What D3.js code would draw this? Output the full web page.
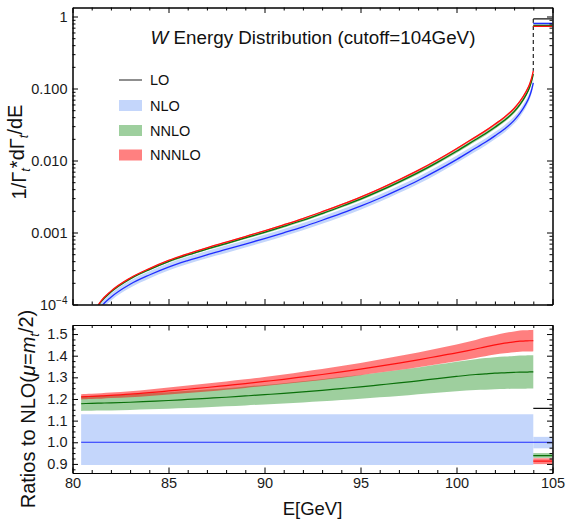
<!DOCTYPE html>
<html><head><meta charset="utf-8">
<script src="https://cdn.jsdelivr.net/npm/d3@7/dist/d3.min.js"></script>
<style>body{margin:0;background:#fff} text{font-family:"Liberation Sans",Arial,sans-serif}</style>
</head><body><svg id="c" width="566" height="521" xmlns="http://www.w3.org/2000/svg"></svg>
<script>
// ---------------- data ----------------
const energies   = [80.45, 80.7, 81, 81.5, 82, 83, 84, 85, 86, 87, 88, 89, 90, 91, 92, 93, 94, 95, 96, 97, 98, 99, 100, 101, 101.5, 102, 102.5, 103, 103.3, 103.6, 103.8, 103.9, 104];
const nloValues  = [1.66e-5, 3.55e-5, 5.62e-5, 9.33e-5, 1.26e-4, 1.91e-4, 2.57e-4, 3.31e-4, 4.07e-4, 4.90e-4, 5.82e-4, 6.92e-4, 8.24e-4, 9.91e-4, 1.20e-3, 1.48e-3, 1.84e-3, 2.32e-3, 2.99e-3, 3.94e-3, 5.28e-3, 7.28e-3, 1.03e-2, 1.49e-2, 1.79e-2, 2.20e-2, 2.74e-2, 3.61e-2, 4.50e-2, 6.01e-2, 7.74e-2, 9.31e-2, 1.20e-1];
const nnloRatio  = [1.178, 1.179, 1.180, 1.181, 1.182, 1.185, 1.189, 1.193, 1.198, 1.203, 1.208, 1.214, 1.220, 1.226, 1.233, 1.240, 1.248, 1.256, 1.265, 1.274, 1.284, 1.294, 1.304, 1.313, 1.316, 1.319, 1.321, 1.323, 1.324, 1.324, 1.325, 1.325, 1.325];
const nnloErr    = [.033, .033, .034, .034, .035, .036, .037, .038, .040, .041, .042, .044, .045, .047, .049, .051, .053, .055, .057, .060, .062, .065, .068, .071, .073, .074, .075, .076, .077, .077, .077, .077, .077];
const nnnloRatio = [1.210, 1.211, 1.212, 1.214, 1.217, 1.222, 1.229, 1.237, 1.245, 1.253, 1.262, 1.271, 1.281, 1.291, 1.302, 1.313, 1.325, 1.338, 1.352, 1.366, 1.381, 1.397, 1.413, 1.431, 1.441, 1.450, 1.458, 1.464, 1.467, 1.468, 1.469, 1.469, 1.470];
const nnnloErr   = [.012, .012, .012, .013, .013, .014, .015, .016, .017, .018, .019, .020, .021, .022, .024, .025, .027, .028, .030, .032, .034, .036, .039, .042, .044, .045, .047, .048, .049, .049, .050, .050, .050];
const nloBandRatio = [0.895, 1.13];

// endpoint bin (cutoff 104 GeV .. 105 GeV)
const binEdges      = [104, 105];
const nloBinValue   = 0.80;
const loBinRatio    = 1.157;
const nloBinBand    = [0.972, 1.025];
const nnloBinRatio  = 0.938;
const nnloBinBand   = [0.928, 0.950];
const nnnloBinRatio = 0.913;
const nnnloBinBand  = [0.899, 0.926];

// axes
const xMajorTicks = [80, 85, 90, 95, 100, 105];
const topMajorTicks = [1e-4, 1e-3, 1e-2, 1e-1, 1];
const topTickLabels = ["10^-4", "0.001", "0.010", "0.100", "1"];
const bottomMajorTicks = [0.9, 1.0, 1.1, 1.2, 1.3, 1.4, 1.5];
const bottomTickLabels = ["0.9", "1.0", "1.1", "1.2", "1.3", "1.4", "1.5"];
const legendLabels = ["LO", "NLO", "NNLO", "NNNLO"];

// ---------------- styles ----------------
const C = {
  nloBand: "#c4d6fb", nloLine: "#1f2cff",
  nnloBand: "rgba(0,128,0,0.38)", nnloLine: "#0a700a",
  nnnloBand: "rgba(255,0,0,0.5)", nnnloLine: "#ff1010",
  lo: "#111"
};

const svg = d3.select("#c");
svg.append("rect").attr("width", 566).attr("height", 521).attr("fill", "#fff");

const L = 72.5, R = 552.5;
const T1 = 7.5, B1 = 304.5, T2 = 325, B2 = 473;

const x = d3.scaleLinear().domain([80, 105]).range([L, R]);
const yTop = d3.scaleLog().domain([1e-4, 1.334]).range([B1, T1]);
const yBot = d3.scaleLinear().domain([0.858, 1.5418]).range([B2, T2]);

const defs = svg.append("defs");
defs.append("clipPath").attr("id", "clipTop").append("rect").attr("x", L).attr("y", T1).attr("width", R - L).attr("height", B1 - T1);
defs.append("clipPath").attr("id", "clipBot").append("rect").attr("x", L).attr("y", T2).attr("width", R - L).attr("height", B2 - T2);

const rows = energies.map((e, i) => ({
  e, nlo: nloValues[i], r2: nnloRatio[i], e2: nnloErr[i], r3: nnnloRatio[i], e3: nnnloErr[i]
}));

const curve = d3.curveMonotoneX;

// ---------------- top panel ----------------
const gTop = svg.append("g").attr("clip-path", "url(#clipTop)");
function topArea(lo, hi) {
  return d3.area().curve(curve).x(d => x(d.e)).y0(d => yTop(lo(d))).y1(d => yTop(hi(d)));
}
function topLine(f) {
  return d3.line().curve(curve).x(d => x(d.e)).y(d => yTop(f(d)));
}
gTop.append("path").datum(rows).attr("fill", C.nloBand)
  .attr("d", topArea(d => d.nlo * nloBandRatio[0], d => d.nlo * nloBandRatio[1]));
gTop.append("path").datum(rows).attr("fill", "none").attr("stroke", C.nloLine).attr("stroke-width", 1.3)
  .attr("d", topLine(d => d.nlo));
gTop.append("path").datum(rows).attr("fill", C.nnloBand)
  .attr("d", topArea(d => d.nlo * (d.r2 - d.e2), d => d.nlo * (d.r2 + d.e2)));
gTop.append("path").datum(rows).attr("fill", "none").attr("stroke", C.nnloLine).attr("stroke-width", 1.3)
  .attr("d", topLine(d => d.nlo * d.r2));
gTop.append("path").datum(rows).attr("fill", C.nnnloBand)
  .attr("d", topArea(d => d.nlo * (d.r3 - d.e3), d => d.nlo * (d.r3 + d.e3)));
gTop.append("path").datum(rows).attr("fill", "none").attr("stroke", C.nnnloLine).attr("stroke-width", 1.3)
  .attr("d", topLine(d => d.nlo * d.r3));

// endpoint bin, top panel
const last = rows[rows.length - 1];
gTop.append("line").attr("x1", x(binEdges[0])).attr("x2", x(binEdges[0]))
  .attr("y1", yTop(nloBinValue * loBinRatio)).attr("y2", yTop(last.nlo * last.r3))
  .attr("stroke", "#222").attr("stroke-width", 1.2).attr("stroke-dasharray", "4,3");
const topBins = [
  {v: nloBinValue * loBinRatio, c: C.lo},
  {band: [nloBinValue * nloBinBand[0], nloBinValue * nloBinBand[1]], fill: C.nloBand, v: nloBinValue, c: C.nloLine},
  {band: [nloBinValue * nnloBinBand[0], nloBinValue * nnloBinBand[1]], fill: C.nnloBand, v: nloBinValue * nnloBinRatio, c: C.nnloLine},
  {band: [nloBinValue * nnnloBinBand[0], nloBinValue * nnnloBinBand[1]], fill: C.nnnloBand, v: nloBinValue * nnnloBinRatio, c: C.nnnloLine}
];
topBins.forEach(b => {
  if (b.band) gTop.append("rect").attr("x", x(binEdges[0])).attr("width", x(binEdges[1]) - x(binEdges[0]))
    .attr("y", yTop(b.band[1])).attr("height", yTop(b.band[0]) - yTop(b.band[1])).attr("fill", b.fill);
  gTop.append("line").attr("x1", x(binEdges[0])).attr("x2", x(binEdges[1]))
    .attr("y1", yTop(b.v)).attr("y2", yTop(b.v)).attr("stroke", b.c).attr("stroke-width", 1.3);
});

// ---------------- bottom panel ----------------
const gBot = svg.append("g").attr("clip-path", "url(#clipBot)");
function botArea(lo, hi) {
  return d3.area().curve(curve).x(d => x(d.e)).y0(d => yBot(lo(d))).y1(d => yBot(hi(d)));
}
function botLine(f) {
  return d3.line().curve(curve).x(d => x(d.e)).y(d => yBot(f(d)));
}
gBot.append("path").datum(rows).attr("fill", C.nloBand)
  .attr("d", botArea(() => nloBandRatio[0], () => nloBandRatio[1]));
gBot.append("rect").attr("x", x(binEdges[0])).attr("width", x(binEdges[1]) - x(binEdges[0]))
  .attr("y", yBot(nloBinBand[1])).attr("height", yBot(nloBinBand[0]) - yBot(nloBinBand[1])).attr("fill", C.nloBand);
gBot.append("line").attr("x1", x(energies[0])).attr("x2", x(binEdges[1]))
  .attr("y1", yBot(1)).attr("y2", yBot(1)).attr("stroke", C.nloLine).attr("stroke-width", 1.2);
gBot.append("path").datum(rows).attr("fill", C.nnloBand)
  .attr("d", botArea(d => d.r2 - d.e2, d => d.r2 + d.e2));
gBot.append("path").datum(rows).attr("fill", "none").attr("stroke", C.nnloLine).attr("stroke-width", 1.2)
  .attr("d", botLine(d => d.r2));
gBot.append("path").datum(rows).attr("fill", C.nnnloBand)
  .attr("d", botArea(d => d.r3 - d.e3, d => d.r3 + d.e3));
gBot.append("path").datum(rows).attr("fill", "none").attr("stroke", C.nnnloLine).attr("stroke-width", 1.2)
  .attr("d", botLine(d => d.r3));
const botBins = [
  {v: loBinRatio, c: C.lo},
  {band: nnloBinBand, fill: C.nnloBand, v: nnloBinRatio, c: C.nnloLine},
  {band: nnnloBinBand, fill: C.nnnloBand, v: nnnloBinRatio, c: C.nnnloLine}
];
botBins.forEach(b => {
  if (b.band) gBot.append("rect").attr("x", x(binEdges[0])).attr("width", x(binEdges[1]) - x(binEdges[0]))
    .attr("y", yBot(b.band[1])).attr("height", yBot(b.band[0]) - yBot(b.band[1])).attr("fill", b.fill);
  gBot.append("line").attr("x1", x(binEdges[0])).attr("x2", x(binEdges[1]))
    .attr("y1", yBot(b.v)).attr("y2", yBot(b.v)).attr("stroke", b.c).attr("stroke-width", 1.3);
});

// ---------------- axes ----------------
const xMinor = d3.range(80, 106).filter(v => !xMajorTicks.includes(v));
const topMinor = [];
[1e-4, 1e-3, 1e-2, 1e-1].forEach(d => { for (let k = 2; k <= 9; k++) topMinor.push(d * k); });
const botMinor = d3.range(35, 62).filter(k => k % 4 !== 0).map(k => k * 0.025);

function drawAxis(axisFn, scale, tx, ty, major, minor, fmt) {
  const g = svg.append("g").attr("transform", `translate(${tx},${ty})`);
  g.call(axisFn(scale).tickValues(minor).tickSize(-3).tickSizeOuter(0).tickFormat(""));
  const g2 = svg.append("g").attr("transform", `translate(${tx},${ty})`);
  g2.call(axisFn(scale).tickValues(major).tickSize(-5.5).tickSizeOuter(0).tickPadding(5).tickFormat(fmt || ""));
  [g, g2].forEach(s => {
    s.selectAll("path.domain").attr("stroke", "#000").attr("stroke-width", 1);
    s.selectAll(".tick line").attr("stroke", "#000").attr("stroke-width", 1);
    s.selectAll("text").attr("font-family", "Liberation Sans, Arial, sans-serif").attr("font-size", 14.5).attr("fill", "#1a1a1a");
  });
  return g2;
}
// top panel
const topLeft = drawAxis(d3.axisLeft, yTop, L, 0, topMajorTicks, topMinor, (d, i) => topTickLabels[topMajorTicks.indexOf(d)]);
drawAxis(d3.axisRight, yTop, R, 0, topMajorTicks, topMinor, null);
drawAxis(d3.axisBottom, x, 0, B1, xMajorTicks, xMinor, null);
drawAxis(d3.axisTop, x, 0, T1, xMajorTicks, xMinor, null);
// superscript label for 10^-4
topLeft.selectAll(".tick text").each(function(d) {
  const t = d3.select(this);
  const s = t.text();
  if (s.includes("^")) {
    const [b, p] = s.split("^");
    t.text(null);
    t.append("tspan").text(b);
    t.append("tspan").attr("dy", "-0.55em").attr("font-size", 10).text(p.replace("-", "\u2212"));
  }
});
// bottom panel
drawAxis(d3.axisLeft, yBot, L, 0, bottomMajorTicks, botMinor, (d) => bottomTickLabels[bottomMajorTicks.indexOf(d)]);
drawAxis(d3.axisRight, yBot, R, 0, bottomMajorTicks, botMinor, null);
drawAxis(d3.axisBottom, x, 0, B2, xMajorTicks, xMinor, d => String(d));
drawAxis(d3.axisTop, x, 0, T2, xMajorTicks, xMinor, null);

// ---------------- titles ----------------
const title = svg.append("text").attr("x", 313).attr("y", 44).attr("text-anchor", "middle")
  .attr("font-size", 18.8).attr("fill", "#111");
title.append("tspan").attr("font-style", "italic").text("W");
title.append("tspan").text(" Energy Distribution (cutoff=104GeV)");

svg.append("text").attr("x", (L + R) / 2).attr("y", 515).attr("text-anchor", "middle")
  .attr("font-size", 18.5).attr("fill", "#111").text("E[GeV]");

const yl1 = svg.append("text").attr("transform", `translate(26,152) rotate(-90)`)
  .attr("text-anchor", "middle").attr("font-size", 20).attr("fill", "#111");
yl1.append("tspan").text("1/\u0393");
yl1.append("tspan").attr("font-size", 13).attr("font-style", "italic").attr("dy", "0.3em").text("t");
yl1.append("tspan").attr("dy", "-0.3em").text("*d\u0393");
yl1.append("tspan").attr("font-size", 13).attr("font-style", "italic").attr("dy", "0.3em").text("t");
yl1.append("tspan").attr("dy", "-0.3em").text("/dE");

const yl2 = svg.append("text").attr("transform", `translate(35,409) rotate(-90)`)
  .attr("text-anchor", "middle").attr("font-size", 20).attr("fill", "#111");
yl2.append("tspan").text("Ratios to NLO(");
yl2.append("tspan").attr("font-style", "italic").text("\u03bc");
yl2.append("tspan").text("=");
yl2.append("tspan").attr("font-style", "italic").text("m");
yl2.append("tspan").attr("font-size", 13).attr("font-style", "italic").attr("dy", "0.3em").text("t");
yl2.append("tspan").attr("dy", "-0.3em").text("/2)");

// ---------------- legend ----------------
const legend = svg.append("g");
const legendFills = [null, C.nloBand, "rgb(158,207,158)", "rgb(255,128,128)"];
const legendY = [80, 105.5, 130.5, 155];
legendLabels.forEach((lab, i) => {
  if (i === 0) {
    legend.append("line").attr("x1", 119).attr("x2", 142).attr("y1", legendY[i]).attr("y2", legendY[i])
      .attr("stroke", "#444").attr("stroke-width", 1.2);
  } else {
    legend.append("rect").attr("x", 119).attr("y", legendY[i] - 5.5).attr("width", 23).attr("height", 11)
      .attr("fill", legendFills[i]);
  }
  legend.append("text").attr("x", 150).attr("y", legendY[i] + 5).attr("font-size", 14.5).attr("fill", "#111").text(lab);
});
</script></body></html>
